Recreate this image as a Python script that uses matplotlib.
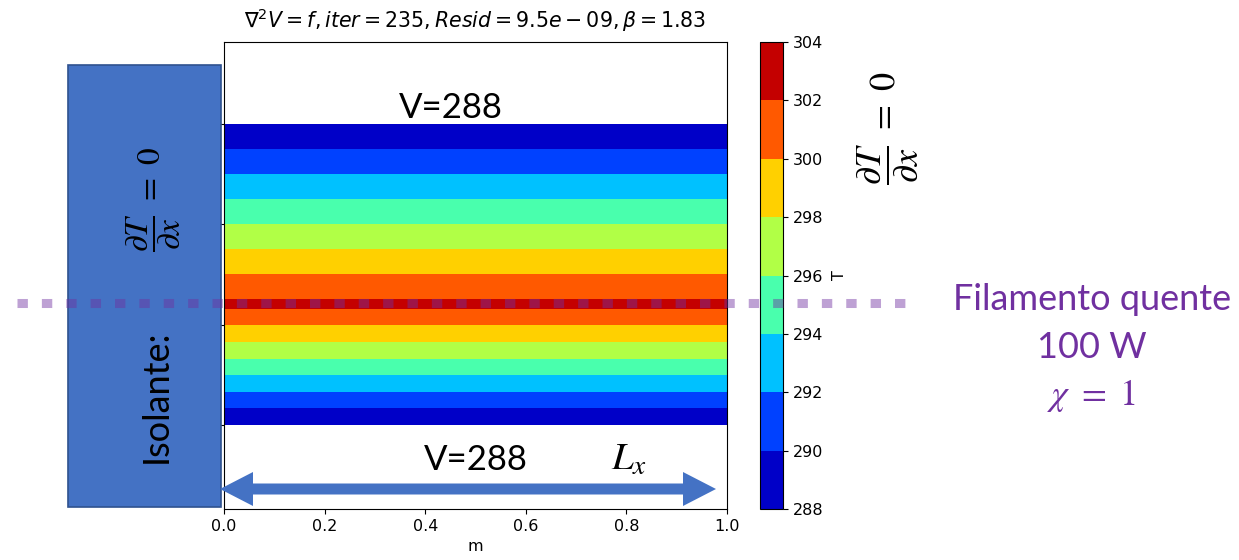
import matplotlib
matplotlib.use("Agg")
import matplotlib.pyplot as plt
import numpy as np
from matplotlib.patches import Rectangle, Polygon
from matplotlib.lines import Line2D

# -------------------------
# data
# -------------------------

x_grid = [0.0, 1.0]
y_grid = [0.2, 0.44, 0.8]          # bottom wall, hot filament, top wall
T_profile = [288.0, 302.48, 288.0]  # temperature along y (constant in x)

levels = [288, 290, 292, 294, 296, 298, 300, 302, 304]
xticks = [0.0, 0.2, 0.4, 0.6, 0.8, 1.0]
yticks = [0.2, 0.4, 0.6, 0.8]

title = r"$\nabla^2 V = f, iter = 235, Resid = 9.5e-09, \beta = 1.83$"

W, H = 1239, 560
BLUE = "#4472C4"
PURPLE = "#7030A0"
TXT_FONT = "Lato"
DTDX = r"$\dfrac{\partial T}{\partial x}\ =\ 0$"


def px(x, y):
    # pixel (from top-left) -> figure fraction
    return x / W, 1 - y / H


# -------------------------
# plot
# -------------------------

fig = plt.figure(figsize=(W / 100, H / 100), dpi=100)

l, b = px(224, 509)
r, t = px(727, 42)
ax = fig.add_axes([l, b, r - l, t - b])

X, Y = np.meshgrid(x_grid, y_grid)
Z = np.array([[T, T] for T in T_profile])
cs = ax.contourf(X, Y, Z, levels=levels, cmap="jet")

ax.set_xlim(0, 1)
ax.set_ylim(0.033, 0.963)
ax.set_xticks(xticks)
ax.set_yticks(yticks)
ax.tick_params(labelsize=11.5)
ax.set_xlabel("m", fontsize=11.5)
ax.set_title(title, fontsize=14.8, pad=10)

cl, cb = px(760, 509)
cr, ct = px(783, 42)
cax = fig.add_axes([cl, cb, cr - cl, ct - cb])
cbar = fig.colorbar(cs, cax=cax)
cbar.set_ticks(levels)
cbar.ax.tick_params(labelsize=11.5)
cbar.set_label("T", fontsize=11.5, labelpad=6)

# -------------------------
# slide annotations
# -------------------------

# insulating block on the left
rx0, ry0 = px(68, 507)
rx1, ry1 = px(221, 65)
fig.patches.append(Rectangle((rx0, ry0), rx1 - rx0, ry1 - ry0, transform=fig.transFigure,
                             facecolor=BLUE, edgecolor="#2F528F", lw=1.2, zorder=5))

fig.text(*px(167, 396), "Isolante:", rotation=90, rotation_mode="anchor",
         ha="center", va="baseline", fontsize=26, family=TXT_FONT, zorder=6)
fig.text(*px(154, 200), DTDX, rotation=90,
         ha="center", va="center", fontsize=24, math_fontfamily="stix", zorder=6)

# right side boundary condition
fig.text(*px(887, 128), DTDX, rotation=90,
         ha="center", va="center", fontsize=26, math_fontfamily="stix", zorder=6)

# boundary values
fig.text(*px(451, 118), "V=288", ha="center", va="baseline", fontsize=25, family=TXT_FONT, zorder=6)
fig.text(*px(476, 470), "V=288", ha="center", va="baseline", fontsize=25, family=TXT_FONT, zorder=6)
fig.text(*px(611, 470), r"$L_x$", ha="left", va="baseline", fontsize=28,
         math_fontfamily="stix", zorder=6)

# double arrow Lx
ax0, ax1, ay = 220, 716, 489
hl, hw, sw = 33, 17, 5.5
arrow_pts = [(ax0, ay), (ax0 + hl, ay - hw), (ax0 + hl, ay - sw), (ax1 - hl, ay - sw),
             (ax1 - hl, ay - hw), (ax1, ay), (ax1 - hl, ay + hw), (ax1 - hl, ay + sw),
             (ax0 + hl, ay + sw), (ax0 + hl, ay + hw)]
fig.patches.append(Polygon([px(*p) for p in arrow_pts], closed=True, transform=fig.transFigure,
                           facecolor=BLUE, edgecolor="none", zorder=7))

# hot filament line
lx0, ly = px(17, 303)
lx1, _ = px(915, 303)
fig.lines.append(Line2D([lx0, lx1], [ly, ly], transform=fig.transFigure, color=PURPLE,
                        alpha=0.45, lw=6.5, linestyle=(0, (1.15, 1.55)),
                        dash_capstyle="butt", zorder=8))

fig.text(*px(1092, 310), "Filamento quente", ha="center", va="baseline", fontsize=26,
         family=TXT_FONT, color=PURPLE, zorder=6)
fig.text(*px(1092, 358), "100 W", ha="center", va="baseline", fontsize=26,
         family=TXT_FONT, color=PURPLE, zorder=6)
fig.text(*px(1092, 405), r"$\chi\ =\ 1$", ha="center", va="baseline", fontsize=26,
         math_fontfamily="stix", color=PURPLE, zorder=6)

fig.savefig("out.png", dpi=100)
